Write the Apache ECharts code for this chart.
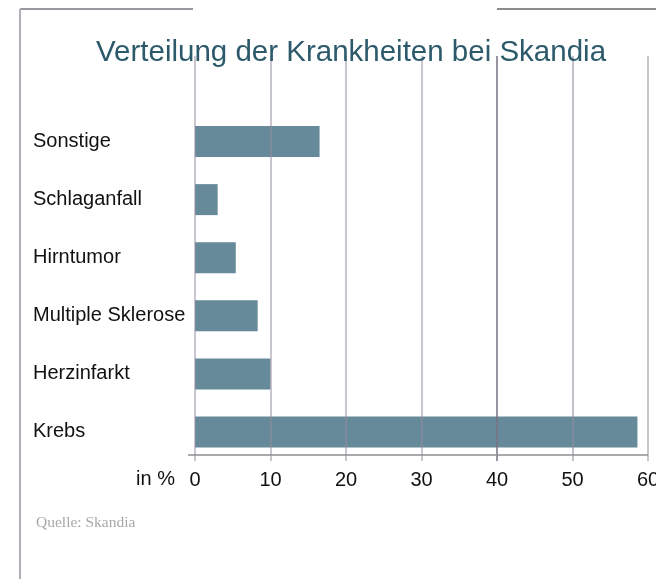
<!DOCTYPE html>
<html>
<head>
<meta charset="utf-8">
<script src="https://cdn.jsdelivr.net/npm/echarts@6/dist/echarts.min.js"></script>
<style>
html,body{margin:0;padding:0;background:#fff;}
#c{width:656px;height:579px;}
</style>
</head>
<body>
<div id="c"></div>
<script>
const titleText = 'Verteilung der Krankheiten bei Skandia';
const categories = ['Krebs', 'Herzinfarkt', 'Multiple Sklerose', 'Hirntumor', 'Schlaganfall', 'Sonstige'];
const values = [58.6, 10, 8.3, 5.4, 3, 16.5];
const axisMin = 0, axisMax = 60, axisStep = 10;
const unitLabel = 'in %';
const sourceText = 'Quelle: Skandia';

const chart = echarts.init(document.getElementById('c'), null, {renderer: 'canvas'});
const sans = '"Liberation Sans", Arial, Helvetica, sans-serif';
const gl = 'rgba(150,140,158,0.5)';

const option = {
  backgroundColor: '#fff',
  animation: false,
  title: {
    text: titleText, left: 91, top: 33,
    textStyle: {fontFamily: sans, fontSize: 29.5, fontWeight: 'normal', color: '#2d5a6b'}
  },
  grid: [
    {left: 195, right: 8, top: 56, bottom: 118, containLabel: false, outerBoundsMode: 'none'},
    {left: 195, right: 8, top: 112.5, bottom: 118, containLabel: false, outerBoundsMode: 'none'}
  ],
  xAxis: [
    {gridIndex: 0, type: 'value', min: axisMin, max: axisMax, interval: axisStep, z: 5,
     axisLine: {show: false}, axisTick: {show: false}, axisLabel: {show: false},
     splitLine: {show: true, lineStyle: {color: [gl, gl, gl, gl, 'rgba(120,112,128,0.75)', 'rgba(150,140,158,0.55)', gl], width: 2}}},
    {gridIndex: 1, type: 'value', min: axisMin, max: axisMax, interval: axisStep,
     axisLine: {show: false}, axisTick: {show: false}, splitLine: {show: false},
     axisLabel: {show: true, margin: 9, alignMinLabel: 'center', alignMaxLabel: 'center', fontFamily: sans, fontSize: 20, color: '#111'}}
  ],
  yAxis: [
    {gridIndex: 0, type: 'value', show: false},
    {gridIndex: 1, type: 'category', data: categories,
     axisLine: {show: false}, axisTick: {show: false},
     axisLabel: {align: 'left', margin: 162, fontFamily: sans, fontSize: 20, color: '#111'}}
  ],
  series: [{
    type: 'bar', xAxisIndex: 1, yAxisIndex: 1, data: values,
    barWidth: 31, itemStyle: {color: '#678a9a'}, z: 2
  }],
  graphic: [
    {type: 'line', shape: {x1: 20, y1: 9, x2: 193, y2: 9}, style: {stroke: '#9b969d', lineWidth: 2}},
    {type: 'line', shape: {x1: 20, y1: 9, x2: 20, y2: 579}, style: {stroke: '#b3adb6', lineWidth: 2}},
    {type: 'line', shape: {x1: 497, y1: 9, x2: 656, y2: 9}, style: {stroke: '#8c8c8c', lineWidth: 2}},
    {type: 'line', shape: {x1: 188, y1: 455, x2: 648, y2: 455}, style: {stroke: '#8f8f8f', lineWidth: 1.5}, z: 10},
    {type: 'text', right: 656 - 175, top: 469, style: {text: unitLabel, font: '20px ' + sans, fill: '#111'}},
    {type: 'text', left: 36, top: 515, style: {text: sourceText, font: '15.5px "Liberation Serif", "Times New Roman", serif', fill: '#a8a8a8'}}
  ]
};
chart.setOption(option);
</script>
</body>
</html>
